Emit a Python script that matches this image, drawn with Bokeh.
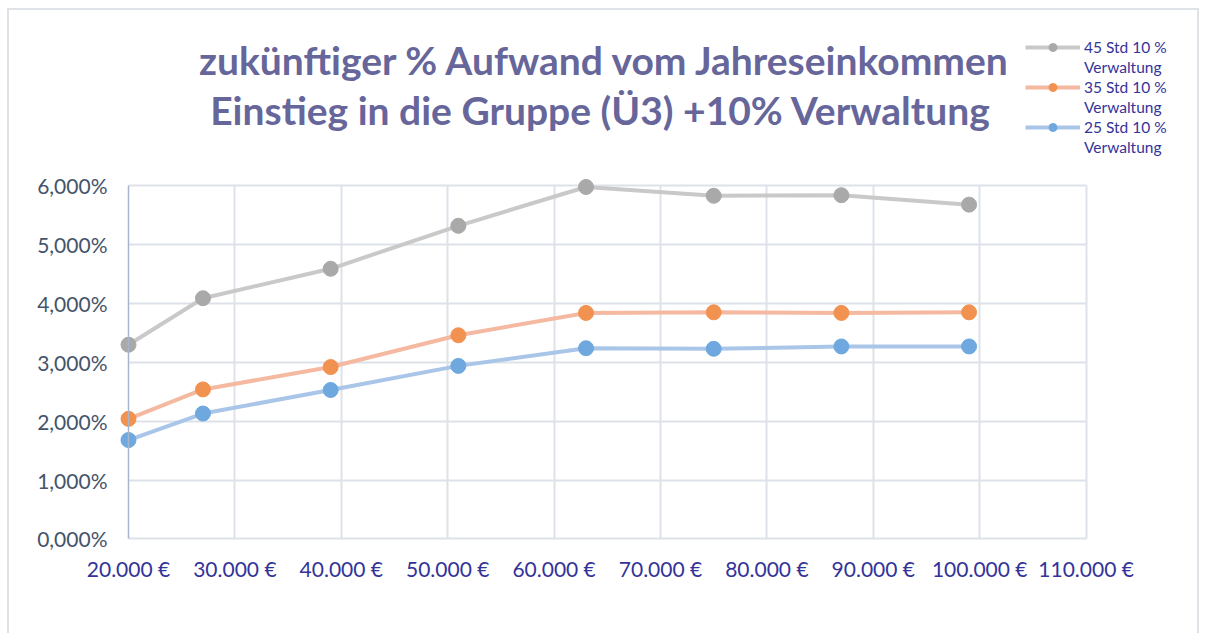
from bokeh.plotting import figure
from bokeh.models import Range1d, FixedTicker, Legend, LegendItem, Label
from bokeh.embed import file_html
from bokeh.resources import INLINE

# ---- data ----
income = [20000, 27000, 39000, 51000, 63000, 75000, 87000, 99000]
std45 = [3.30, 4.09, 4.59, 5.32, 5.98, 5.83, 5.84, 5.68]
std35 = [2.04, 2.54, 2.92, 3.46, 3.84, 3.85, 3.84, 3.85]
std25 = [1.68, 2.13, 2.53, 2.94, 3.24, 3.23, 3.27, 3.27]
series_names = ["45 Std 10 %", "35 Std 10 %", "25 Std 10 %"]
series_suffix = "Verwaltung"
x_ticks = [20000, 30000, 40000, 50000, 60000, 70000, 80000, 90000, 100000, 110000]
x_labels = ["20.000 €", "30.000 €", "40.000 €", "50.000 €", "60.000 €", "70.000 €",
            "80.000 €", "90.000 €", "100.000 €", "110.000 €"]
y_ticks = [0, 1, 2, 3, 4, 5, 6]
y_labels = ["0,000%", "1,000%", "2,000%", "3,000%", "4,000%", "5,000%", "6,000%"]
title_lines = ["zukünftiger % Aufwand vom Jahreseinkommen",
               "Einstieg in die Gruppe (Ü3)  +10% Verwaltung"]

FONT = "Lato"
GRID = "#dde2ea"

# ---- layout (canvas pixels) ----
W, H = 1192, 625
CX0 = 119.0        # canvas x of the first x tick
PX_X = 106.4 / 10000.0
CY0 = 528.4        # canvas y of 0 %
PX_Y = 58.85


def px_to_x(px):
    return x_ticks[0] + (px - CX0) / PX_X


def px_to_y(py):
    return (CY0 - py) / PX_Y


p = figure(width=W, height=H, output_backend="svg", toolbar_location=None,
           x_range=Range1d(px_to_x(0), px_to_x(W)), y_range=Range1d(px_to_y(H), px_to_y(0)),
           min_border=0, outline_line_color=None,
           styles={"margin-left": "7px", "margin-top": "8px",
                   "border-left": "2px solid #dfe3e8", "border-top": "2px solid #dfe3e8",
                   "border-right": "2px solid #dfe3e8"})

# axes inside the frame
p.xaxis.fixed_location = y_ticks[0]
p.yaxis.fixed_location = x_ticks[0]
p.xaxis.bounds = (x_ticks[0], x_ticks[-1])
p.yaxis.bounds = (y_ticks[0], y_ticks[-1])
p.xaxis.ticker = FixedTicker(ticks=x_ticks)
p.xaxis.major_label_overrides = {t: l for t, l in zip(x_ticks, x_labels)}
p.yaxis.ticker = FixedTicker(ticks=y_ticks)
p.yaxis.major_label_overrides = {t: l for t, l in zip(y_ticks, y_labels)}
for ax in (p.xaxis, p.yaxis):
    ax.major_tick_line_color = None
    ax.minor_tick_line_color = None
    ax.major_label_text_font = FONT
    ax.major_label_text_font_size = "21px"
p.xaxis.axis_line_color = GRID
p.xaxis.axis_line_width = 2
p.yaxis.axis_line_color = "#a8b6cc"
p.yaxis.axis_line_width = 1.5
p.xaxis.major_label_text_color = "#33339a"
p.xaxis.major_label_standoff = 11
p.yaxis.major_label_text_color = "#44546a"
p.yaxis.major_label_standoff = 15

p.xgrid.ticker = FixedTicker(ticks=x_ticks[1:])
p.ygrid.ticker = FixedTicker(ticks=y_ticks[1:])
p.xgrid.cross_bounds = (y_ticks[0], y_ticks[-1])
p.ygrid.cross_bounds = (x_ticks[0], x_ticks[-1])
p.xgrid.grid_line_color = GRID
p.ygrid.grid_line_color = GRID
p.xgrid.grid_line_width = 2
p.ygrid.grid_line_width = 2

# title (two centred lines)
for line, base_px in zip(title_lines, [49, 99]):
    p.add_layout(Label(x=px_to_x(596), y=px_to_y(base_px), text=line, text_align="center",
                       text_baseline="alphabetic", text_font=FONT, text_font_size="39px",
                       text_font_style="bold", text_color="#66669b"))

line_cols = ["#c9c9c9", "#f4b9a0", "#a9c5e8"]
mark_cols = ["#a9a9a9", "#f29250", "#6ea8de"]
items = []
for ys, lc, mc, name in zip([std45, std35, std25], line_cols, mark_cols, series_names):
    r1 = p.line(income, ys, line_color=lc, line_width=4)
    r2 = p.scatter(income, ys, size=15, fill_color=mc, line_color=mc)
    items.append(LegendItem(label=name, renderers=[r1, r2]))
    # second (wrapped) line of the legend entry: no visible glyph
    blank = p.line(x=[], y=[], line_alpha=0)
    items.append(LegendItem(label=series_suffix, renderers=[blank]))

legend = Legend(items=items, location=(1016, 478), orientation="vertical",
                label_text_font=FONT, label_text_font_size="15.5px",
                label_text_color="#33339a", glyph_width=55, glyph_height=20,
                label_height=20, spacing=0, padding=2, margin=0,
                background_fill_alpha=0, border_line_color=None, label_standoff=4)
p.add_layout(legend)

open("out.html", "w").write(file_html(p, INLINE))
